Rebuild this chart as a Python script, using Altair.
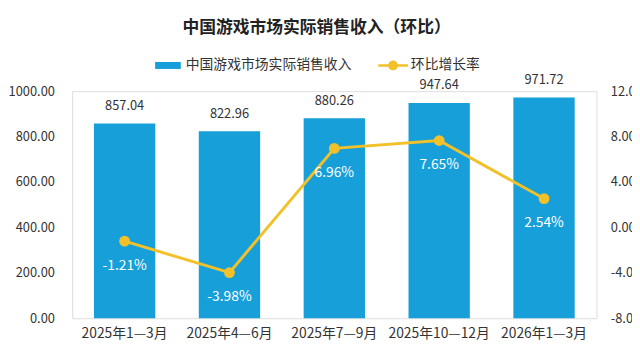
import altair as alt
import pandas as pd

periods = ["2025年1—3月", "2025年4—6月", "2025年7—9月", "2025年10—12月", "2026年1—3月"]
revenue = [857.04, 822.96, 880.26, 947.64, 971.72]
growth = [-1.21, -3.98, 6.96, 7.65, 2.54]

BAR_NAME = "中国游戏市场实际销售收入"
LINE_NAME = "环比增长率"
BLUE = "#179fd9"
YELLOW = "#f2c12a"
FONT = "Noto Sans CJK SC"
TXT = "#333333"

df = pd.DataFrame({"period": periods, "revenue": revenue, "growth": growth})

x_enc = alt.X(
    "period:N", sort=None, title=None,
    scale=alt.Scale(paddingInner=0.415, paddingOuter=0.2075),
    axis=alt.Axis(labelAngle=0, labelFont=FONT, labelFontSize=14, labelColor=TXT,
                  domain=False, ticks=False, grid=False, labelPadding=9),
)
y_left = alt.Y(
    "revenue:Q", title=None,
    scale=alt.Scale(domain=[0, 1000], nice=False),
    axis=alt.Axis(values=[0, 200, 400, 600, 800, 1000], format=".2f", labelFont=FONT,
                  labelFontSize=13, labelColor=TXT, domain=False, ticks=False,
                  grid=False, labelPadding=18),
)
y_right = alt.Y(
    "growth:Q", title=None,
    scale=alt.Scale(domain=[-8, 12], nice=False),
    axis=alt.Axis(orient="right", values=[-8, -4, 0, 4, 8, 12],
                  labelExpr="(datum.value < 0 ? '-' : '') + format(abs(datum.value), '.2f') + '%'",
                  labelFont=FONT, labelFontSize=13, labelColor=TXT, domain=False,
                  ticks=False, grid=False, labelPadding=14),
)

base = alt.Chart(df)

bars = base.mark_bar(color=BLUE).transform_calculate(
    series=f"'{BAR_NAME}'"
).encode(
    x=x_enc, y=y_left,
    color=alt.Color("series:N", scale=alt.Scale(domain=[BAR_NAME], range=[BLUE]),
                    legend=alt.Legend(orient="none", legendX=84, legendY=-39, title=None,
                                      padding=0, symbolType="M-1,-0.27H1V0.27H-1Z",
                                      symbolSize=676, symbolStrokeWidth=0,
                                      labelFont=FONT, labelFontSize=14, labelColor=TXT,
                                      labelLimit=400, labelOffset=5)),
)
bar_text = base.mark_text(font=FONT, fontSize=13, color=TXT, baseline="middle", dy=-18).encode(
    x=x_enc, y=y_left, text=alt.Text("revenue:Q", format=".2f"),
)
left = alt.layer(bars, bar_text)

line = base.mark_line(color=YELLOW, strokeWidth=3).encode(x=x_enc, y=y_right)
points = base.mark_point(filled=True, size=120, opacity=1).transform_calculate(
    series=f"'{LINE_NAME}'"
).encode(
    x=x_enc, y=y_right,
    color=alt.Color("series:N", scale=alt.Scale(domain=[LINE_NAME], range=[YELLOW]),
                    legend=alt.Legend(orient="none", legendX=310, legendY=-41, title=None,
                                      padding=0,
                                      symbolType="M-1,-0.08H1V0.08H-1Z M0.33,0A0.33,0.33 0 1,1 -0.33,0A0.33,0.33 0 1,1 0.33,0Z",
                                      symbolSize=900, symbolStrokeWidth=0,
                                      labelFont=FONT, labelFontSize=14, labelColor=TXT,
                                      labelLimit=400, labelOffset=3)),
)
pct_text = base.mark_text(font=FONT, fontSize=14, color="white", baseline="middle", dy=25).transform_calculate(
    lbl="(datum.growth < 0 ? '-' : '') + format(abs(datum.growth), '.2f') + '%'"
).encode(x=x_enc, y=y_right, text="lbl:N")
right = alt.layer(line, points, pct_text)

chart = alt.layer(left, right).resolve_scale(
    y="independent", color="independent"
).properties(
    width=531, height=230,
    autosize=alt.AutoSizeParams(type="none"),
    padding={"left": 65, "top": 82, "right": 36, "bottom": 35},
    title=alt.TitleParams(text="中国游戏市场实际销售收入（环比）", font=FONT, fontSize=17,
                          fontWeight="bold", color="#222222", anchor="middle", dx=-18,
                          frame="group", offset=14),
).configure_view(stroke=None).configure(background="white")

chart.save("out.html", embed_options={"renderer": "svg", "actions": False})
